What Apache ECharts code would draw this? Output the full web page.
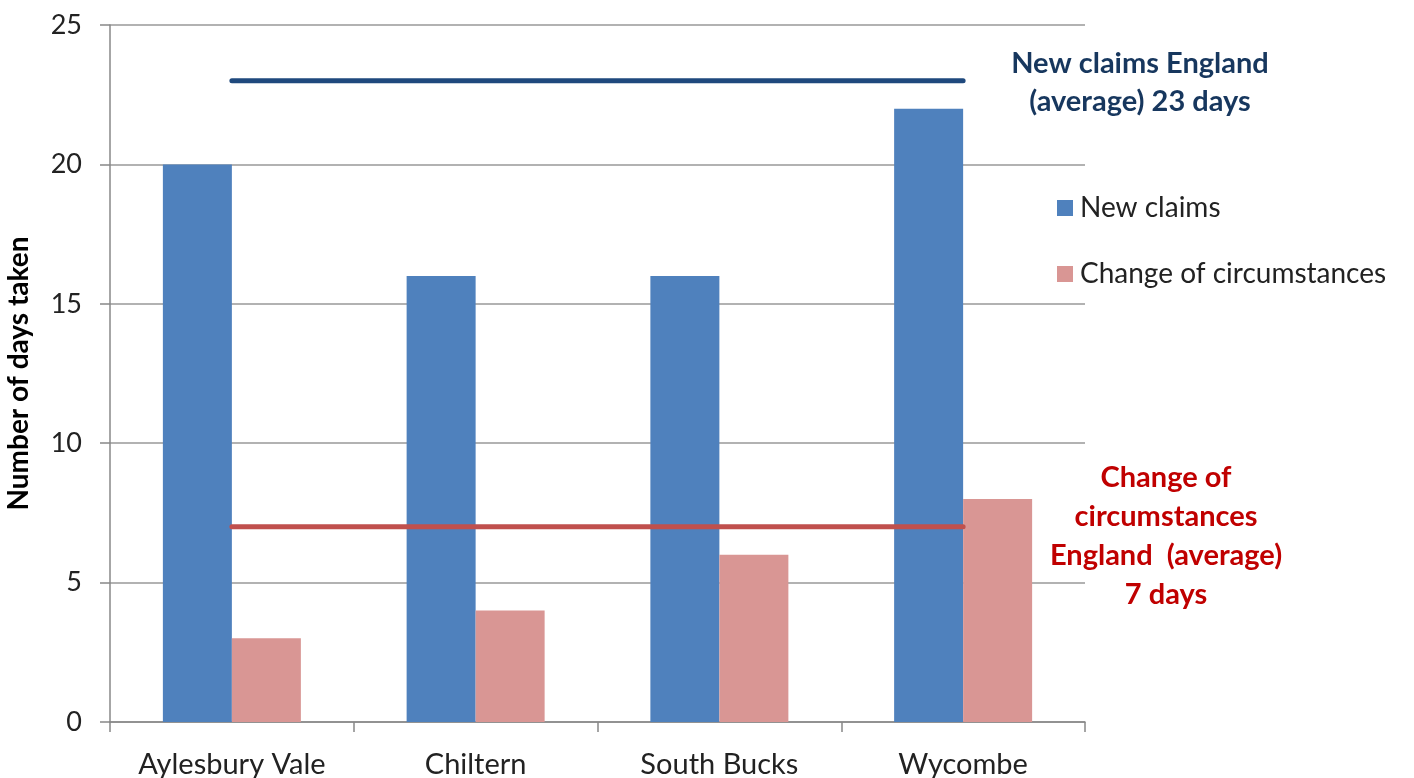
<!DOCTYPE html>
<html><head><meta charset="utf-8">
<script src="https://cdn.jsdelivr.net/npm/echarts@6/dist/echarts.min.js"></script>
<style>html,body{margin:0;padding:0;background:#fff}#c{width:1414px;height:778px}</style>
</head><body><div id="c"></div>
<script>
var categories = ["Aylesbury Vale", "Chiltern", "South Bucks", "Wycombe"];
var newClaims = [20, 16, 16, 22];
var changeOfCircumstances = [3, 4, 6, 8];
var newClaimsEnglandAvg = [23, 23, 23, 23];
var changeEnglandAvg = [7, 7, 7, 7];
var yTicks = {min: 0, max: 25, interval: 5};

var FONT = "Lato, 'Open Sans', sans-serif";
var chart = echarts.init(document.getElementById('c'));
chart.setOption({
  animation: false,
  textStyle: {fontFamily: FONT},
  grid: {left: 110, right: 329, top: 25, bottom: 56, containLabel: false, outerBoundsMode: 'none'},
  legend: {
    orient: 'vertical', left: 1052, top: 189,
    itemWidth: 16, itemHeight: 16, itemGap: 38,
    icon: 'rect',
    data: ['New claims', 'Change of circumstances'],
    textStyle: {fontSize: 28, color: '#222', fontFamily: FONT, padding: [0,0,0,2]}
  },
  xAxis: {
    type: 'category', data: categories,
    axisLine: {lineStyle: {color: '#888', width: 1.5}},
    axisTick: {show: true, length: 10, lineStyle: {color: '#888', width: 1.5}},
    axisLabel: {fontSize: 29, color: '#222', margin: 28, fontFamily: FONT, interval: 0, hideOverlap: false}
  },
  yAxis: {
    type: 'value', min: yTicks.min, max: yTicks.max, interval: yTicks.interval,
    name: 'Number of days taken', nameLocation: 'middle', nameGap: 77,
    nameTextStyle: {fontSize: 28, fontWeight: 'bold', color: '#000', fontFamily: FONT},
    axisLine: {show: true, lineStyle: {color: '#888', width: 1.5}},
    axisTick: {show: true, length: 10, lineStyle: {color: '#888', width: 1.5}},
    splitLine: {lineStyle: {color: '#999', width: 1.5}},
    axisLabel: {fontSize: 27, color: '#222', margin: 28, fontFamily: FONT}
  },
  series: [
    {name: 'New claims', type: 'bar', data: newClaims, barWidth: 69, barGap: '0%',
     itemStyle: {color: '#4F81BD'}},
    {name: 'Change of circumstances', type: 'bar', data: changeOfCircumstances, barWidth: 69,
     itemStyle: {color: '#D99694'}},
    {name: 'NC avg', type: 'line', data: newClaimsEnglandAvg, symbol: 'none', z: 5,
     lineStyle: {color: '#1F497D', width: 5, cap: 'round'}},
    {name: 'CoC avg', type: 'line', data: changeEnglandAvg, symbol: 'none', z: 5,
     lineStyle: {color: '#C0504D', width: 5, cap: 'round'}}
  ],
  graphic: [
    {type: 'text', x: 1140, y: 45, style: {
      text: 'New claims England\n(average) 23 days',
      textAlign: 'center', textVerticalAlign: 'top', fill: '#17375E', font: 'bold 29px ' + FONT, lineHeight: 38}},
    {type: 'text', x: 1166, y: 458, style: {
      text: 'Change of\ncircumstances\nEngland  (average)\n7 days',
      textAlign: 'center', textVerticalAlign: 'top', fill: '#C00000', font: 'bold 29px ' + FONT, lineHeight: 39}}
  ]
});
</script></body></html>
